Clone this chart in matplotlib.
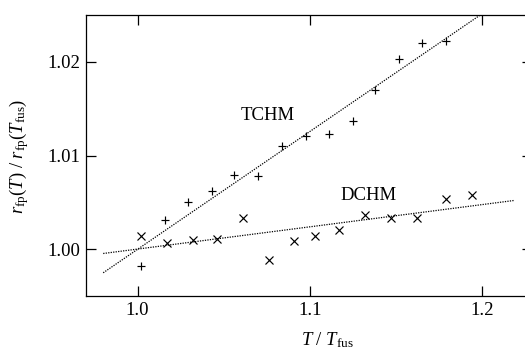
import numpy as np
import matplotlib.pyplot as plt

plt.rcParams['font.family'] = ['Liberation Serif', 'DejaVu Serif']
plt.rcParams['mathtext.fontset'] = 'custom'
plt.rcParams['mathtext.rm'] = 'Liberation Serif'
plt.rcParams['mathtext.it'] = 'Liberation Serif:italic'

# TCHM (+)
tchm_x = [1.002, 1.016, 1.029, 1.043, 1.056, 1.070, 1.084, 1.098, 1.111, 1.125, 1.138, 1.152, 1.165, 1.179]
tchm_y = [0.9982, 1.0031, 1.0050, 1.0062, 1.0079, 1.0078, 1.0110, 1.0121, 1.0123, 1.0137, 1.0170, 1.0203, 1.0220, 1.0222]

# DCHM (x)
dchm_x = [1.002, 1.017, 1.032, 1.046, 1.061, 1.076, 1.091, 1.103, 1.117, 1.132, 1.147, 1.162, 1.179, 1.194]
dchm_y = [1.0014, 1.0007, 1.0010, 1.0011, 1.0033, 0.9988, 1.0009, 1.0014, 1.0020, 1.0036, 1.0033, 1.0033, 1.0054, 1.0058]

# fitted lines (end points)
tchm_fit_x = [0.980, 1.1987]
tchm_fit_y = [0.99748, 1.02497]
dchm_fit_x = [0.980, 1.219]
dchm_fit_y = [0.99954, 1.00521]

fig = plt.figure(figsize=(5.25, 3.61), dpi=100)
ax = fig.add_axes([0.1638, 0.18, 1.0133 - 0.1638, 0.9584 - 0.18])

ax.plot(tchm_fit_x, tchm_fit_y, color='black', lw=0.9, linestyle=(0, (1, 1)))
ax.plot(dchm_fit_x, dchm_fit_y, color='black', lw=0.9, linestyle=(0, (1, 1)))
ax.plot(tchm_x, tchm_y, '+', color='black', ms=6, mew=0.85)
ax.plot(dchm_x, dchm_y, 'x', color='black', ms=5.8, mew=0.85)

ax.text(1.0753, 1.0143, 'TCHM', fontsize=13.5, ha='center', va='center')
ax.text(1.134, 1.0057, 'DCHM', fontsize=13.5, ha='center', va='center')

ax.set_xlim(0.97, 1.229)
ax.set_ylim(0.995, 1.025)
ax.set_xticks([1.0, 1.1, 1.2])
ax.set_xticklabels(['1.0', '1.1', '1.2'])
ax.set_yticks([1.00, 1.01, 1.02])
ax.set_yticklabels(['1.00', '1.01', '1.02'])
ax.tick_params(direction='in', length=7, width=0.9, labelsize=13.5, pad=4,
               top=True, right=True)
for s in ax.spines.values():
    s.set_linewidth(0.9)

ax.set_xlabel(r'$T\ /\ T_{\mathrm{fus}}$', fontsize=13.5)
ax.xaxis.set_label_coords(0.54, -0.157)
ax.set_ylabel(r'$r_{\mathrm{fp}}(T)\ /\ r_{\mathrm{fp}}(T_{\mathrm{fus}})$', fontsize=13.5)
ax.yaxis.set_label_coords(-0.15, 0.495)
ax.xaxis.label.set_va('center')
ax.yaxis.label.set_va('center')

fig.savefig('out.png', dpi=100)
